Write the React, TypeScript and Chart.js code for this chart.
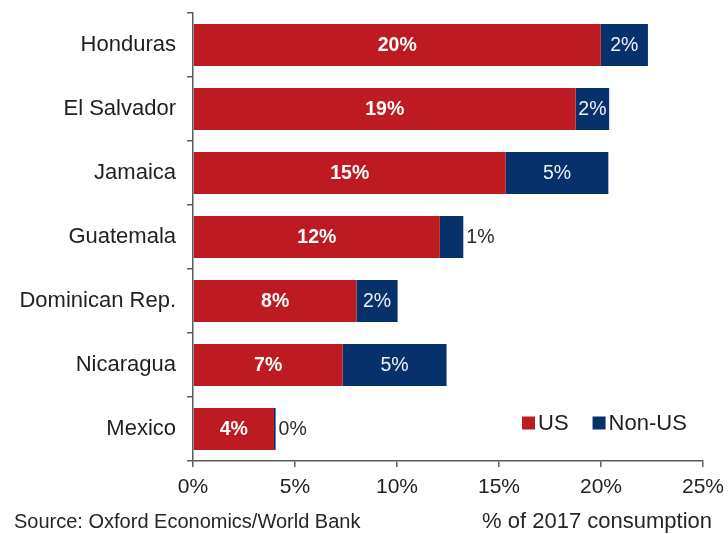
import React, { useEffect, useRef } from "react";
import { Chart, registerables } from "chart.js";

Chart.register(...registerables);

const categories = ["Honduras", "El Salvador", "Jamaica", "Guatemala", "Dominican Rep.", "Nicaragua", "Mexico"];
const usValues = [19.99, 18.76, 15.33, 12.1, 8.02, 7.33, 3.97];
const nonUsValues = [2.31, 1.64, 5.03, 1.15, 2.01, 5.1, 0.08];
const seriesNames = ["US", "Non-US"];
const seriesColors = ["#BD1A22", "#06316B"];
const xMin = 0;
const xMax = 25;
const xStep = 5;
const sourceText = "Source: Oxford Economics/World Bank";
const unitText = "% of 2017 consumption";

const FONT = "'Liberation Sans', Arial, Helvetica, sans-serif";
const AXIS_COLOR = "#5a5a5a";
const TEXT_COLOR = "#1f1f1f";

const fmt = (v: number) => `${Math.round(v)}%`;

const dataLabelPlugin = {
  id: "dataLabels",
  afterDatasetsDraw(chart: any) {
    const ctx = chart.ctx;
    ctx.save();
    ctx.textBaseline = "middle";
    chart.data.datasets.forEach((ds: any, di: number) => {
      const meta = chart.getDatasetMeta(di);
      meta.data.forEach((el: any, i: number) => {
        const v = ds.data[i];
        const txt = fmt(v);
        const left = Math.min(el.base, el.x);
        const right = Math.max(el.base, el.x);
        const w = right - left;
        if (di === 0) {
          ctx.font = `bold 19.5px ${FONT}`;
          ctx.fillStyle = "#ffffff";
          ctx.textAlign = "center";
          ctx.fillText(txt, (left + right) / 2, el.y + 1);
        } else {
          ctx.font = `19.5px ${FONT}`;
          const tw = ctx.measureText(txt).width;
          if (w >= tw + 2) {
            ctx.fillStyle = "#eef1f6";
            ctx.textAlign = "center";
            ctx.fillText(txt, (left + right) / 2, el.y + 1);
          } else {
            ctx.fillStyle = "#2a2a2a";
            ctx.textAlign = "left";
            ctx.fillText(txt, right + 3, el.y + 1);
          }
        }
      });
    });
    ctx.restore();
  },
};

const legendFooterPlugin = {
  id: "legendFooter",
  afterDraw(chart: any) {
    const ctx = chart.ctx;
    const area = chart.chartArea;
    ctx.save();
    // legend inside plot, bottom-right
    const ly = area.bottom - 38;
    let lx = area.right - 181;
    ctx.font = `22px ${FONT}`;
    ctx.textBaseline = "middle";
    ctx.textAlign = "left";
    chart.data.datasets.forEach((ds: any) => {
      ctx.fillStyle = ds.backgroundColor;
      ctx.fillRect(lx, ly - 6.5, 13, 13);
      ctx.fillStyle = TEXT_COLOR;
      ctx.fillText(ds.label, lx + 16, ly + 1);
      lx += 16 + ctx.measureText(ds.label).width + 24;
    });
    // footer
    ctx.fillStyle = "#262626";
    ctx.font = `20px ${FONT}`;
    ctx.textAlign = "left";
    ctx.fillText(sourceText, 14, 522);
    ctx.font = `22px ${FONT}`;
    ctx.textAlign = "right";
    ctx.fillText(unitText, 712, 522);
    ctx.restore();
  },
};

export default function App() {
  const canvasRef = useRef<HTMLCanvasElement | null>(null);

  useEffect(() => {
    if (!canvasRef.current) return;
    const chart = new Chart(canvasRef.current, {
      type: "bar",
      data: {
        labels: categories,
        datasets: [
          {
            label: seriesNames[0],
            data: usValues,
            backgroundColor: seriesColors[0],
            borderWidth: 0,
            barPercentage: 0.655,
            categoryPercentage: 1,
          },
          {
            label: seriesNames[1],
            data: nonUsValues,
            backgroundColor: seriesColors[1],
            borderWidth: 0,
            barPercentage: 0.655,
            categoryPercentage: 1,
          },
        ],
      },
      options: {
        indexAxis: "y",
        animation: false,
        responsive: true,
        maintainAspectRatio: false,
        layout: { padding: { top: 13, right: 25, left: 0, bottom: 0 } },
        plugins: {
          legend: { display: false },
          tooltip: { enabled: false },
        },
        scales: {
          x: {
            type: "linear",
            stacked: true,
            min: xMin,
            max: xMax,
            ticks: {
              stepSize: xStep,
              callback: (v: any) => `${v}%`,
              color: TEXT_COLOR,
              font: { family: FONT, size: 21 },
              padding: 8,
              maxRotation: 0,
            },
            grid: {
              display: true,
              drawOnChartArea: false,
              drawTicks: true,
              tickLength: 6,
              color: AXIS_COLOR,
              lineWidth: 1.5,
            },
            border: { display: true, color: AXIS_COLOR, width: 1.5 },
            afterFit: (s: any) => {
              s.height = 73;
              s.paddingLeft = 0;
              s.paddingRight = 0;
            },
          },
          y: {
            type: "category",
            stacked: true,
            ticks: {
              color: TEXT_COLOR,
              font: { family: FONT, size: 22 },
              padding: 11,
            },
            grid: {
              display: true,
              offset: true,
              drawOnChartArea: false,
              drawTicks: true,
              tickLength: 6,
              color: AXIS_COLOR,
              lineWidth: 1.5,
            },
            border: { display: true, color: AXIS_COLOR, width: 1.5 },
            afterFit: (s: any) => {
              s.width = 193;
              s.paddingTop = 0;
              s.paddingBottom = 0;
            },
          },
        },
      },
      plugins: [dataLabelPlugin, legendFooterPlugin],
    });
    return () => chart.destroy();
  }, []);

  return (
    <div style={{ position: "absolute", left: 0, top: 0, width: 728, height: 534, background: "#ffffff" }}>
      <canvas ref={canvasRef} />
    </div>
  );
}
